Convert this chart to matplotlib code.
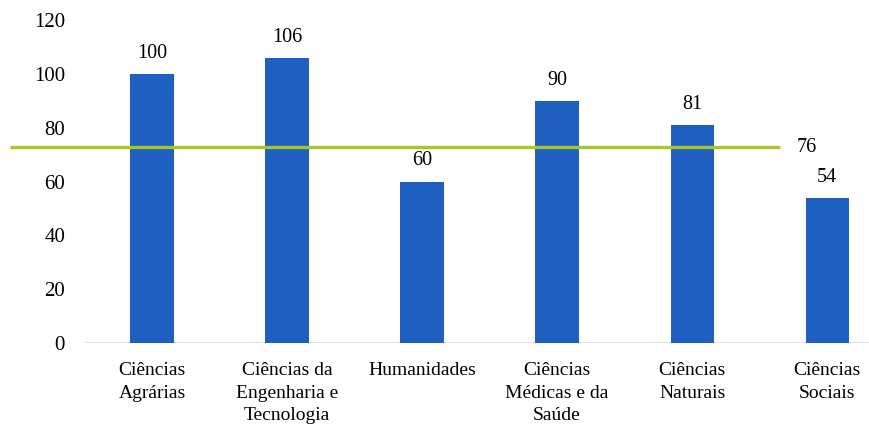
import numpy as np
import matplotlib.pyplot as plt

plt.rcParams['font.family'] = ['Liberation Serif', 'DejaVu Serif']

# data
areas = ["Ciências\nAgrárias", "Ciências da\nEngenharia e\nTecnologia", "Humanidades",
         "Ciências\nMédicas e da\nSaúde", "Ciências\nNaturais", "Ciências\nSociais"]
valores = [100, 106, 60, 90, 81, 54]
media_label = "76"
media_linha = 73  # level at which the line is drawn in the picture

fig = plt.figure(figsize=(8.69, 4.28), dpi=100)
ax = fig.add_axes([84.5 / 869, 85 / 428, 1 - 84.5 / 869, (343 - 20) / 428])

x = np.arange(len(areas))
bars = ax.bar(x, valores, width=0.32, color="#1f5fbf", zorder=2)

for xi, v in zip(x, valores):
    ax.annotate(str(v), (xi, v), xytext=(0, 8), textcoords="offset points",
                ha="center", va="bottom", fontsize=14.5)

# average line, starts left of the axes and stops before the last bar
ax.plot([-1.05, 4.65], [media_linha, media_linha], color="#a6c62a", lw=2.4,
        clip_on=False, zorder=3, solid_capstyle="butt")
ax.annotate(media_label, (4.65, media_linha), xytext=(12, -1), textcoords="offset points",
            ha="left", va="center", fontsize=14.5)

ax.axhline(0, color="#dcdcdc", lw=1.2, zorder=1)

ax.set_xlim(-0.5, 5.31)
ax.set_ylim(0, 120)
ax.set_yticks(range(0, 121, 20))
ax.set_xticks(x)
ax.set_xticklabels(areas, fontsize=14, linespacing=1.4)
ax.tick_params(axis="both", length=0)
ax.tick_params(axis="y", pad=14, labelsize=15)
ax.tick_params(axis="x", pad=14)
for s in ax.spines.values():
    s.set_visible(False)

fig.savefig("out.png", dpi=100)
